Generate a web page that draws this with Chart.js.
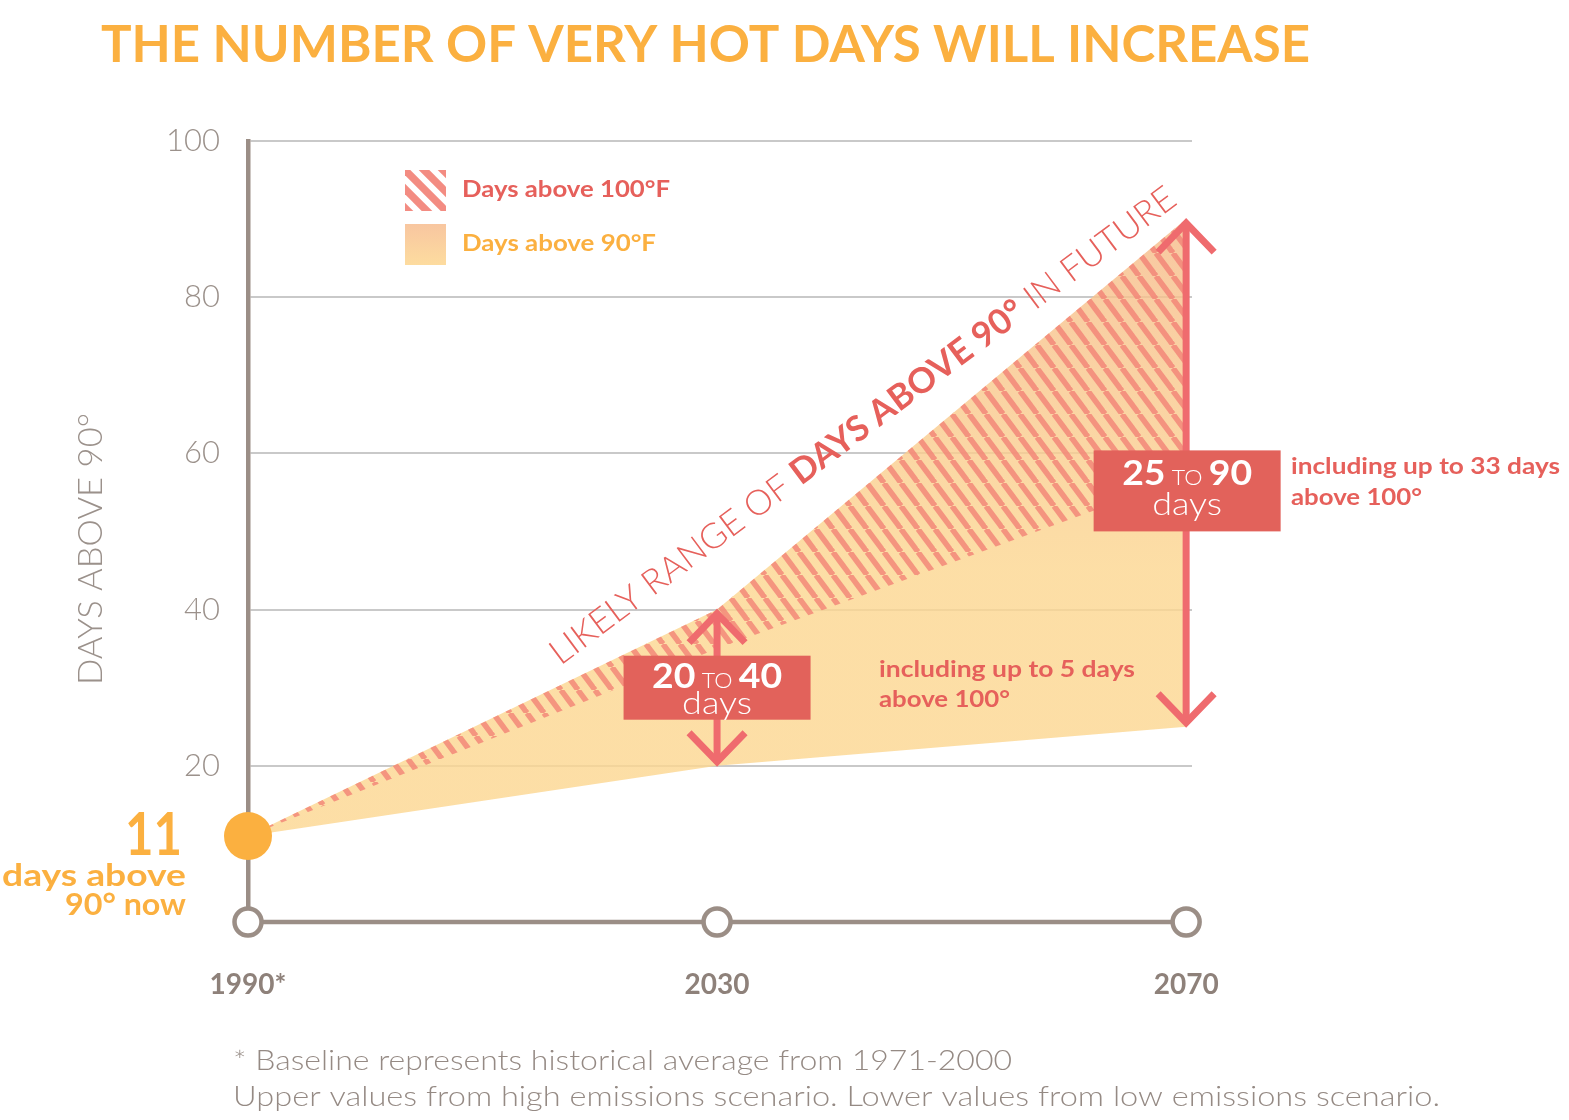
<!DOCTYPE html>
<html>
<head>
<meta charset="utf-8">
<script src="https://cdn.jsdelivr.net/npm/chart.js@4.4.1/dist/chart.umd.min.js"></script>
<style>
  html, body { margin: 0; padding: 0; background: #ffffff; }
  #wrap { position: relative; width: 1569px; height: 1120px; }
  canvas { display: block; }
</style>
</head>
<body>
<div id="wrap"><canvas id="c" width="1569" height="1120"></canvas></div>
<script>
// ---------- DATA ----------
const years = [1990, 2030, 2070];
const xTickLabels = ['1990*', '2030', '2070'];
const yTickValues = [0, 20, 40, 60, 80, 100];
const high90 = [11, 40, 90];     // upper bound, days above 90°F (high emissions)
const low90 = [11, 20, 25];      // lower bound, days above 90°F (low emissions)
const low100 = [11, 35, 57];     // lower edge of the "days above 100°F" band
const baselineDays = [11];
const axisZero = [0, 0, 0];

// ---------- STYLE ----------
const FAM = "Lato, 'Open Sans', 'DejaVu Sans', sans-serif";
const ORANGE = '#FBB040';
const SALMON = '#E6605B';
const ARROW = '#EF6B6E';
const BOX = '#E2625B';
const AXIS = '#9B8E86';
const GREY_TXT = '#958a84';

function fontStr(p) { return `${p.weight || 400} ${p.size}px ${FAM}`; }

function drawRuns(ctx, parts, x, y, o) {
  o = o || {};
  ctx.save();
  ctx.translate(x, y);
  if (o.rotate) ctx.rotate(o.rotate);
  let total = 0;
  parts.forEach(p => { ctx.font = fontStr(p); p.w = ctx.measureText(p.t).width; total += p.w; });
  const sx = o.width ? o.width / total : 1;
  ctx.scale(sx, 1);
  let cx = o.align === 'center' ? -total / 2 : (o.align === 'right' ? -total : 0);
  ctx.textBaseline = o.baseline || 'alphabetic';
  ctx.textAlign = 'left';
  parts.forEach(p => {
    ctx.font = fontStr(p);
    ctx.fillStyle = p.color || o.color || '#000';
    ctx.fillText(p.t, cx, 0);
    cx += p.w;
  });
  ctx.restore();
}

function makeHatch() {
  const w = 17, h = 23;
  const c = document.createElement('canvas');
  c.width = w; c.height = h;
  const g = c.getContext('2d');
  g.strokeStyle = 'rgba(242,128,116,0.78)';
  g.lineWidth = 5.5;
  for (let k = -1; k <= 1; k++) {
    g.beginPath();
    g.moveTo(k * w, 0);
    g.lineTo(k * w + w, h);
    g.stroke();
  }
  return g.createPattern(c, 'repeat');
}
const hatch = makeHatch();

function warmGradient(context) {
  const chart = context.chart;
  const { ctx, chartArea, scales } = chart;
  if (!chartArea) return 'rgba(252,215,146,0.8)';
  const y0 = scales.y.getPixelForValue(90);
  const y1 = scales.y.getPixelForValue(45);
  const g = ctx.createLinearGradient(0, y0, 0, y1);
  g.addColorStop(0, 'rgba(246,188,140,0.82)');
  g.addColorStop(1, 'rgba(252,215,146,0.82)');
  return g;
}

function arrow(ctx, x, yTop, yBot) {
  ctx.save();
  ctx.strokeStyle = ARROW;
  ctx.lineWidth = 7;
  ctx.lineJoin = 'miter';
  ctx.lineCap = 'butt';
  ctx.beginPath();
  ctx.moveTo(x, yTop + 4);
  ctx.lineTo(x, yBot - 4);
  ctx.stroke();
  ctx.beginPath();
  ctx.moveTo(x - 28, yTop + 33);
  ctx.lineTo(x, yTop + 4);
  ctx.lineTo(x + 28, yTop + 33);
  ctx.stroke();
  ctx.beginPath();
  ctx.moveTo(x - 28, yBot - 33);
  ctx.lineTo(x, yBot - 4);
  ctx.lineTo(x + 28, yBot - 33);
  ctx.stroke();
  ctx.restore();
}

function rangeBox(ctx, cx, cy, w, h, lo, hi) {
  ctx.save();
  ctx.fillStyle = BOX;
  ctx.fillRect(cx - w / 2, cy - h / 2, w, h);
  ctx.restore();
  const topBase = cy - h / 2 + (h > 70 ? 35 : 32);
  drawRuns(ctx, [
    { t: String(lo), weight: 700, size: 34 },
    { t: ' TO ', weight: 300, size: 21 },
    { t: String(hi), weight: 700, size: 34 }
  ], cx, topBase, { align: 'center', color: '#ffffff', width: 130 });
  drawRuns(ctx, [{ t: 'days', weight: 300, size: 32 }], cx, topBase + 26 + (h > 70 ? 4 : 0), { align: 'center', color: '#ffffff', width: 70 });
}

const annotations = {
  id: 'annotations',
  afterDatasetsDraw(chart) {
    const { ctx, scales: { x, y } } = chart;

    // title
    drawRuns(ctx, [{ t: 'THE NUMBER OF VERY HOT DAYS WILL INCREASE', weight: 700, size: 52 }],
      101, 62, { color: ORANGE, width: 1209 });

    // y-axis title
    drawRuns(ctx, [{ t: 'DAYS ABOVE 90°', weight: 300, size: 34 }], 102, 549,
      { align: 'center', color: '#9B918B', width: 272, rotate: -Math.PI / 2 });

    // legend
    ctx.save();
    ctx.beginPath();
    ctx.rect(405, 170, 41, 41);
    ctx.clip();
    ctx.strokeStyle = 'rgba(242,128,116,0.9)';
    ctx.lineWidth = 7.5;
    for (let k = -2; k <= 2; k++) {
      ctx.beginPath();
      ctx.moveTo(405 + k * 19 - 12, 158);
      ctx.lineTo(405 + k * 19 + 52, 222);
      ctx.stroke();
    }
    ctx.restore();
    ctx.save();
    const lg = ctx.createLinearGradient(0, 224, 0, 265);
    lg.addColorStop(0, '#F8C6A0');
    lg.addColorStop(1, '#FDDC9F');
    ctx.fillStyle = lg;
    ctx.fillRect(405, 224, 41, 41);
    ctx.restore();
    drawRuns(ctx, [{ t: 'Days above 100°F', weight: 700, size: 22 }], 462, 197, { color: SALMON, width: 208 });
    drawRuns(ctx, [{ t: 'Days above 90°F', weight: 700, size: 22 }], 462, 251, { color: ORANGE, width: 194 });

    // rotated range caption
    const rcx = x.getPixelForValue(2043.0), rcy = y.getPixelForValue(62.4);
    drawRuns(ctx, [
      { t: 'LIKELY RANGE OF ', weight: 300, size: 35 },
      { t: 'DAYS ABOVE 90°', weight: 700, size: 35 },
      { t: ' IN FUTURE', weight: 300, size: 35 }
    ], rcx, rcy, { align: 'center', color: SALMON, width: 772, rotate: -36.8 * Math.PI / 180 });

    // arrows and range boxes
    for (let i = 1; i < years.length; i++) {
      const px = x.getPixelForValue(years[i]);
      arrow(ctx, px, y.getPixelForValue(high90[i]), y.getPixelForValue(low90[i]));
    }
    const px1 = x.getPixelForValue(years[1]);
    rangeBox(ctx, px1, y.getPixelForValue(30), 187, 64, low90[1], high90[1]);
    const px2 = x.getPixelForValue(years[2]) + 1;
    rangeBox(ctx, px2, y.getPixelForValue(55.2), 187, 81, low90[2], high90[2]);

    // side notes
    const d1 = high90[1] - low100[1];
    const d2 = high90[2] - low100[2];
    drawRuns(ctx, [{ t: `including up to ${d1} days`, weight: 700, size: 23 }], 879, 677, { color: SALMON, width: 256 });
    drawRuns(ctx, [{ t: 'above 100°', weight: 700, size: 23 }], 879, 707, { color: SALMON, width: 131 });
    drawRuns(ctx, [{ t: `including up to ${d2} days`, weight: 700, size: 23 }], 1291, 474, { color: SALMON, width: 269 });
    drawRuns(ctx, [{ t: 'above 100°', weight: 700, size: 23 }], 1291, 505, { color: SALMON, width: 131 });

    // baseline label
    drawRuns(ctx, [{ t: String(baselineDays[0]), weight: 700, size: 60 }], 182, 855, { align: 'right', color: ORANGE, width: 57 });
    drawRuns(ctx, [{ t: 'days above', weight: 700, size: 31 }], 186, 886, { align: 'right', color: ORANGE, width: 184 });
    drawRuns(ctx, [{ t: '90° now', weight: 700, size: 31 }], 186, 915, { align: 'right', color: ORANGE, width: 121 });

    // footnotes
    drawRuns(ctx, [{ t: '* Baseline represents historical average from 1971-2000', weight: 300, size: 28 }], 233, 1070, { color: GREY_TXT, width: 779 });
    drawRuns(ctx, [{ t: 'Upper values from high emissions scenario. Lower values from low emissions scenario.', weight: 300, size: 28 }], 233, 1106, { color: GREY_TXT, width: 1207 });
  }
};

const pts = (vals) => years.map((yr, i) => ({ x: yr, y: vals[i] }));

new Chart(document.getElementById('c'), {
  type: 'line',
  data: {
    datasets: [
      { // 0: hot days upper (90F) filled to lower
        label: 'Days above 90°F', data: pts(high90), fill: '+1',
        backgroundColor: warmGradient, borderWidth: 0, pointRadius: 0, order: 5
      },
      { // 1: 90F lower bound
        label: 'low90', data: pts(low90), fill: false,
        borderWidth: 0, pointRadius: 0, order: 6
      },
      { // 2: days above 100F band (upper)
        label: 'Days above 100°F', data: pts(high90), fill: '+1',
        backgroundColor: hatch, borderWidth: 0, pointRadius: 0, order: 3
      },
      { // 3: 100F band lower edge
        label: 'low100', data: pts(low100), fill: false,
        borderWidth: 0, pointRadius: 0, order: 4
      },
      { // 4: time axis with open circles
        label: 'axis', data: pts(axisZero), fill: false,
        borderColor: AXIS, borderWidth: 4.5,
        pointRadius: 13.5, pointBackgroundColor: '#ffffff', pointBorderColor: AXIS, pointBorderWidth: 4.5,
        clip: false, order: 2
      },
      { // 5: baseline dot
        label: 'baseline', data: [{ x: years[0], y: baselineDays[0] }], showLine: false,
        pointRadius: 24, pointBackgroundColor: ORANGE, pointBorderWidth: 0, pointBorderColor: ORANGE,
        clip: false, order: 1
      }
    ]
  },
  options: {
    responsive: false,
    devicePixelRatio: 1,
    animation: false,
    events: [],
    elements: { line: { tension: 0 } },
    layout: { padding: { left: 0, top: 141, right: 377, bottom: 0 } },
    plugins: { legend: { display: false }, tooltip: { enabled: false }, title: { display: false } },
    scales: {
      x: {
        type: 'linear', min: 1990, max: 2070.5,
        afterFit(scale) { scale.height = 198; },
        afterBuildTicks(scale) { scale.ticks = years.map(v => ({ value: v })); },
        grid: { display: false, drawTicks: false },
        border: { display: false },
        ticks: {
          padding: 46, autoSkip: false, maxRotation: 0,
          font: { family: FAM, size: 28, weight: 700 }, color: '#8E817A',
          callback: (v) => xTickLabels[years.indexOf(v)]
        }
      },
      y: {
        min: 0, max: 100,
        afterFit(scale) { scale.width = 248; },
        afterBuildTicks(scale) { scale.ticks = yTickValues.map(v => ({ value: v })); },
        grid: {
          drawTicks: false, lineWidth: 2,
          color: (c) => (c.tick && c.tick.value === 0) ? 'rgba(0,0,0,0)' : 'rgba(165,165,165,0.6)'
        },
        border: { display: true, color: AXIS, width: 4.5 },
        ticks: {
          padding: 28,
          font: { family: FAM, size: 31, weight: 300 }, color: '#9B918B',
          callback: (v) => v === 0 ? '' : String(v)
        },
        title: { display: false }
      }
    }
  },
  plugins: [annotations]
});
</script>
</body>
</html>
